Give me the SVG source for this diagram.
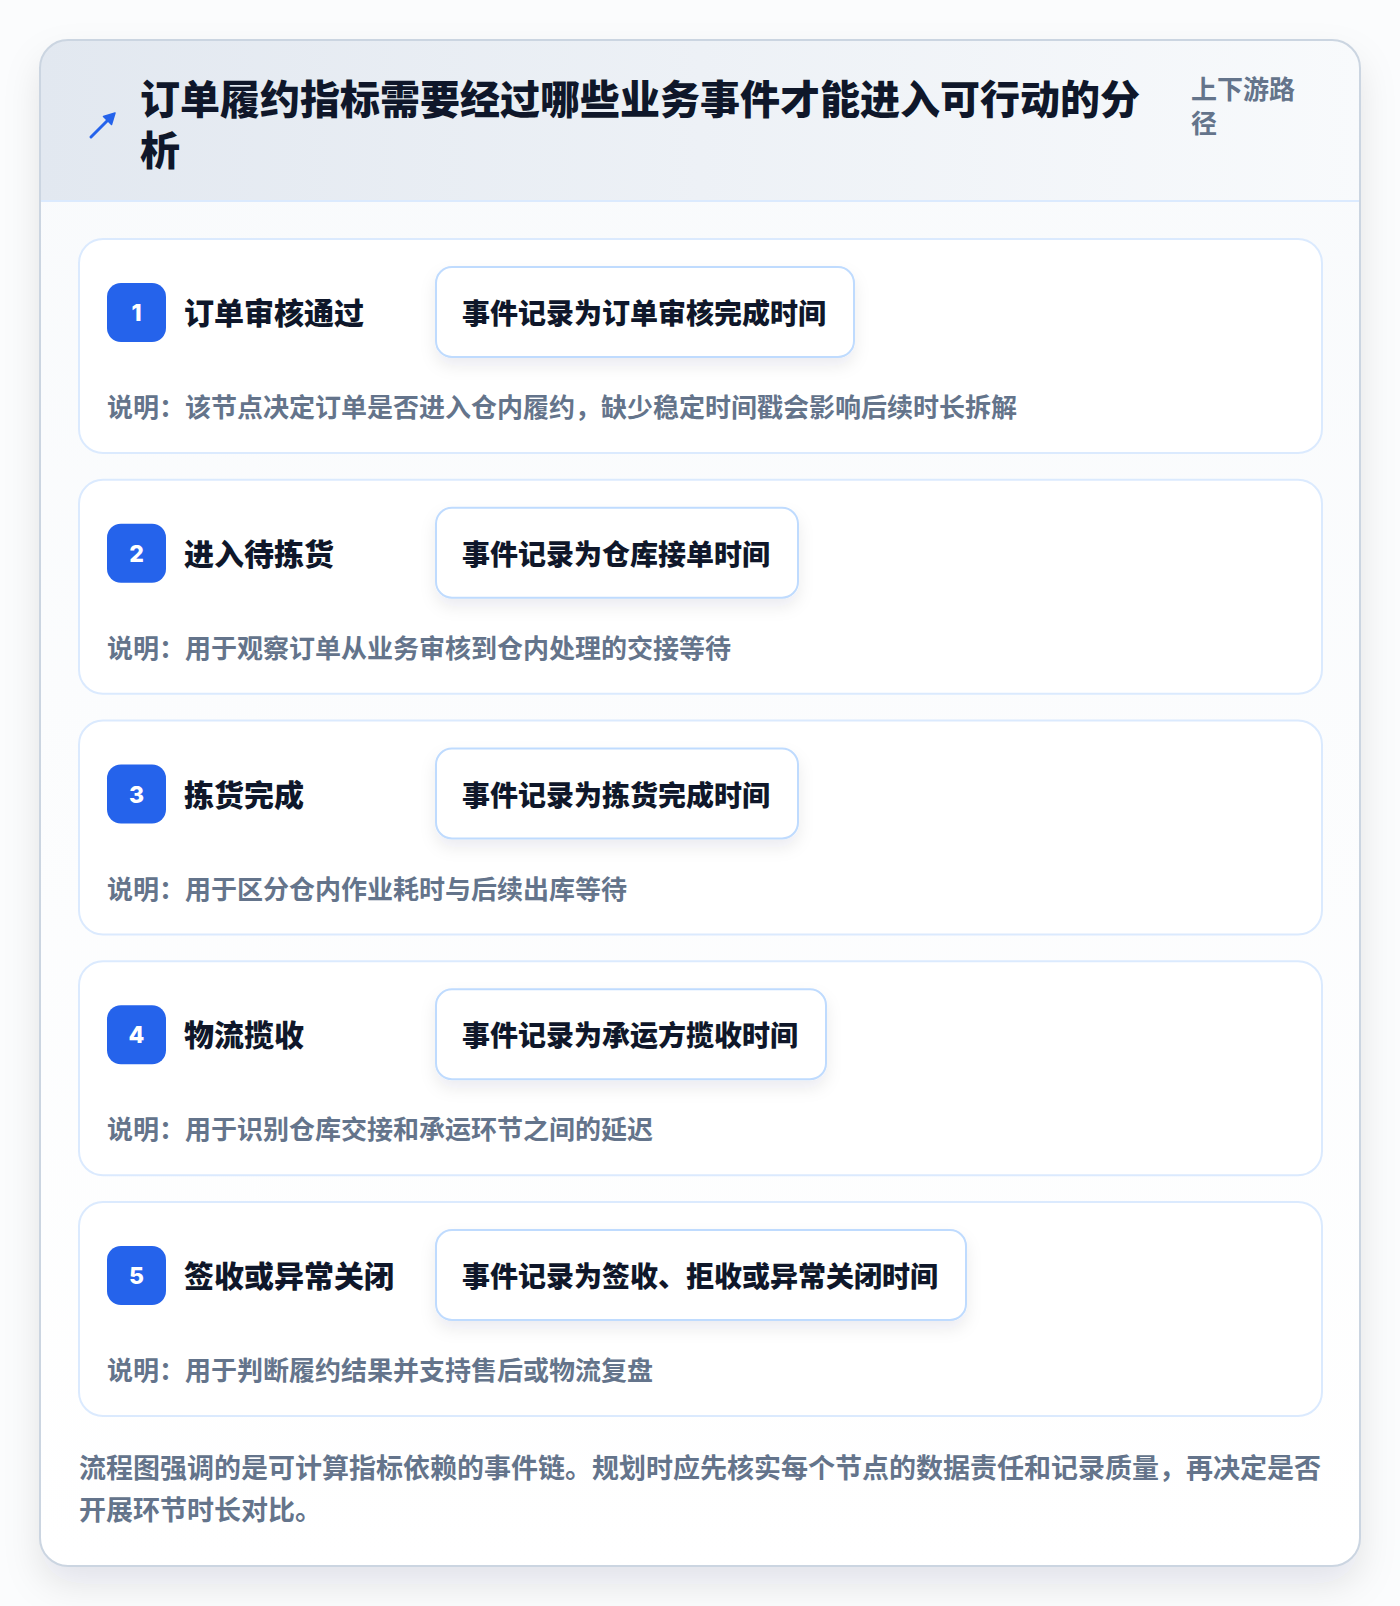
<svg xmlns="http://www.w3.org/2000/svg" width="1400" height="1606" viewBox="0 0 1400 1606">
<defs>
<linearGradient id="hdr" x1="0" y1="0" x2="1" y2="0"><stop offset="0" stop-color="#e2e8f0"/><stop offset="1" stop-color="#f8fafc"/></linearGradient>
<linearGradient id="body" x1="0" y1="0" x2="0" y2="1"><stop offset="0" stop-color="#f8fafc"/><stop offset="1" stop-color="#ffffff"/></linearGradient>
<filter id="sh" x="-10%" y="-10%" width="120%" height="120%"><feDropShadow dx="0" dy="18" stdDeviation="18" flood-color="#0f172a" flood-opacity="0.10"/></filter>
<filter id="bsh" x="-20%" y="-40%" width="140%" height="190%"><feDropShadow dx="0" dy="8" stdDeviation="8" flood-color="#1e293b" flood-opacity="0.08"/></filter>
<clipPath id="cardclip"><rect x="40" y="40" width="1320" height="1526" rx="28"/></clipPath>
</defs>
<style>
text{font-family:"Noto Sans CJK SC","Noto Sans",sans-serif;font-weight:700}
.title{font-size:40px;fill:#0f172a;font-weight:900}
.tag{font-size:26px;fill:#64748b}
.step{fill:#ffffff;stroke:#dbeafe;stroke-width:2}
.badge{fill:#2563eb}
.num{font-size:23px;fill:#ffffff;font-family:"Inter","Noto Sans",sans-serif;font-weight:800}
.stitle{font-size:30px;fill:#0f172a;font-weight:900}
.ev{fill:#ffffff;stroke:#bfdbfe;stroke-width:2}
.evt{font-size:28px;fill:#0f172a;font-weight:900}
.desc{font-size:26px;fill:#64748b}
.foot{font-size:27px;fill:#64748b}
</style>
<rect width="1400" height="1606" fill="#fbfcfd"/>
<g id="card">
<rect x="40" y="40" width="1320" height="1526" rx="28" fill="url(#body)" filter="url(#sh)"/>
<g clip-path="url(#cardclip)">
<rect x="40" y="40" width="1320" height="161" fill="url(#hdr)"/>
<line x1="40" y1="201" x2="1360" y2="201" stroke="#dbeafe" stroke-width="2"/>
</g>
<rect x="40" y="40" width="1320" height="1526" rx="28" fill="none" stroke="#cbd5e1" stroke-width="2"/>
</g>
<g id="header">
<g id="icon">
<line x1="91" y1="137" x2="110" y2="118" stroke="#2563eb" stroke-width="3" stroke-linecap="round"/>
<path d="M115,113 L103.5,116.5 L111.5,124.5 Z" fill="#2563eb" stroke="#2563eb" stroke-width="1.5" stroke-linejoin="round"/>
</g>
<text class="title" x="140" y="114">订单履约指标需要经过哪些业务事件才能进入可行动的分</text>
<text class="title" x="140" y="165">析</text>
<text class="tag" x="1191" y="99">上下游路</text>
<text class="tag" x="1191" y="133">径</text>
</g>
<g id="connectors"></g>
<g id="step1" transform="translate(0,239)">
<rect class="step" x="79" y="0" width="1243" height="214" rx="24"/>
<rect class="badge" x="107" y="44" width="59" height="59" rx="14"/>
<text class="num" x="136.5" y="82" text-anchor="middle">1</text>
<text class="stitle" x="184" y="85">订单审核通过</text>
<rect class="ev" x="436" y="28" width="418" height="90" rx="16" filter="url(#bsh)"/>
<text class="evt" x="462" y="85">事件记录为订单审核完成时间</text>
<text class="desc" x="107" y="178">说明：该节点决定订单是否进入仓内履约，缺少稳定时间戳会影响后续时长拆解</text>
</g>
<g id="step2" transform="translate(0,479.75)">
<rect class="step" x="79" y="0" width="1243" height="214" rx="24"/>
<rect class="badge" x="107" y="44" width="59" height="59" rx="14"/>
<text class="num" x="136.5" y="82" text-anchor="middle">2</text>
<text class="stitle" x="184" y="85">进入待拣货</text>
<rect class="ev" x="436" y="28" width="362" height="90" rx="16" filter="url(#bsh)"/>
<text class="evt" x="462" y="85">事件记录为仓库接单时间</text>
<text class="desc" x="107" y="178">说明：用于观察订单从业务审核到仓内处理的交接等待</text>
</g>
<g id="step3" transform="translate(0,720.5)">
<rect class="step" x="79" y="0" width="1243" height="214" rx="24"/>
<rect class="badge" x="107" y="44" width="59" height="59" rx="14"/>
<text class="num" x="136.5" y="82" text-anchor="middle">3</text>
<text class="stitle" x="184" y="85">拣货完成</text>
<rect class="ev" x="436" y="28" width="362" height="90" rx="16" filter="url(#bsh)"/>
<text class="evt" x="462" y="85">事件记录为拣货完成时间</text>
<text class="desc" x="107" y="178">说明：用于区分仓内作业耗时与后续出库等待</text>
</g>
<g id="step4" transform="translate(0,961.25)">
<rect class="step" x="79" y="0" width="1243" height="214" rx="24"/>
<rect class="badge" x="107" y="44" width="59" height="59" rx="14"/>
<text class="num" x="136.5" y="82" text-anchor="middle">4</text>
<text class="stitle" x="184" y="85">物流揽收</text>
<rect class="ev" x="436" y="28" width="390" height="90" rx="16" filter="url(#bsh)"/>
<text class="evt" x="462" y="85">事件记录为承运方揽收时间</text>
<text class="desc" x="107" y="178">说明：用于识别仓库交接和承运环节之间的延迟</text>
</g>
<g id="step5" transform="translate(0,1202)">
<rect class="step" x="79" y="0" width="1243" height="214" rx="24"/>
<rect class="badge" x="107" y="44" width="59" height="59" rx="14"/>
<text class="num" x="136.5" y="82" text-anchor="middle">5</text>
<text class="stitle" x="184" y="85">签收或异常关闭</text>
<rect class="ev" x="436" y="28" width="530" height="90" rx="16" filter="url(#bsh)"/>
<text class="evt" x="462" y="85">事件记录为签收、拒收或异常关闭时间</text>
<text class="desc" x="107" y="178">说明：用于判断履约结果并支持售后或物流复盘</text>
</g>
<g id="footer">
<text class="foot" x="79" y="1478">流程图强调的是可计算指标依赖的事件链。规划时应先核实每个节点的数据责任和记录质量，再决定是否</text>
<text class="foot" x="79" y="1520">开展环节时长对比。</text>
</g>
</svg>
